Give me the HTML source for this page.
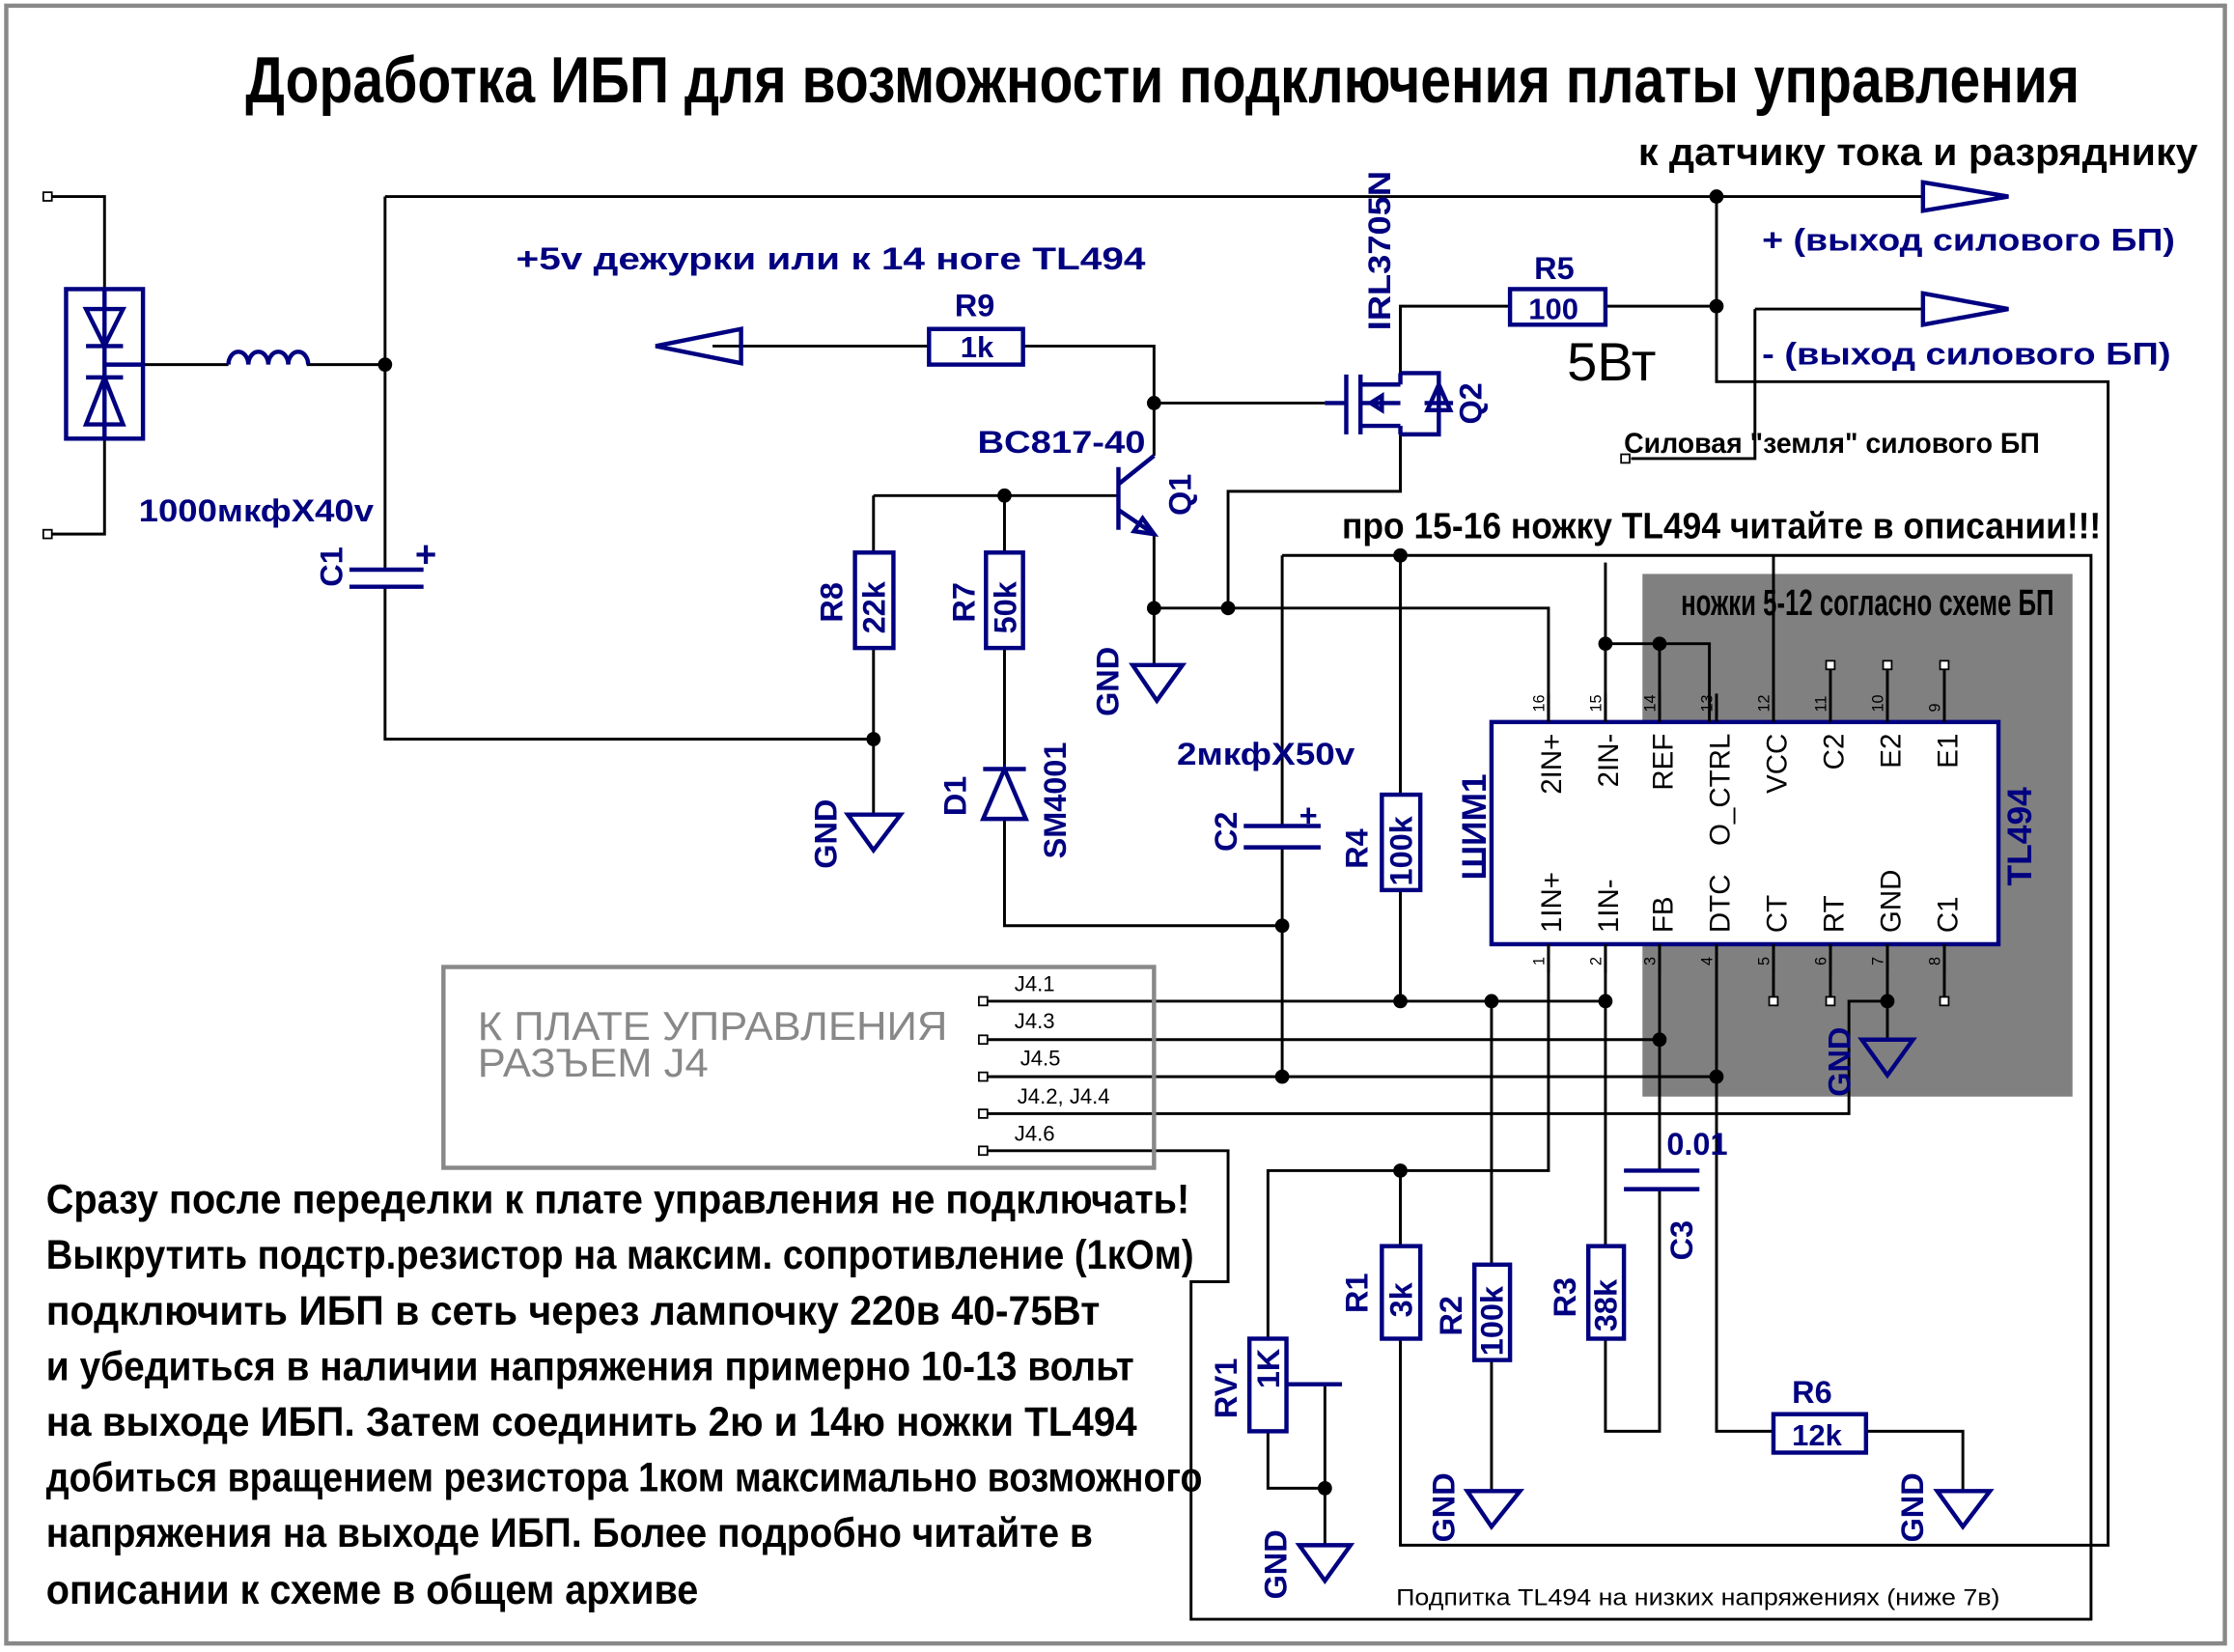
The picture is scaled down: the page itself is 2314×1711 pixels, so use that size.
<!DOCTYPE html>
<html><head><meta charset="utf-8"><style>
html,body{margin:0;padding:0;background:#fff;}
svg{display:block;}
text{font-family:"Liberation Sans","DejaVu Sans",sans-serif;}
.w{stroke:#000;stroke-width:2;fill:none;}
.c{stroke:#000080;stroke-width:3;fill:none;}
.b{fill:#000080;}
.k{fill:#000;}
.t{stroke:#000;stroke-width:1.2;fill:#fff;}
</style></head><body>
<svg width="2314" height="1711" viewBox="0 0 1568 1160" xmlns="http://www.w3.org/2000/svg">
<rect x="0" y="0" width="1568" height="1160" style="fill:#fff"/>
<rect x="4" y="4" width="1558" height="1150" style="fill:none;stroke:#888;stroke-width:3"/>

<rect x="1153" y="403" width="302" height="367" style="fill:#808080"/>
<text x="1180" y="432" font-size="26" font-weight="bold" class="k" textLength="262" lengthAdjust="spacingAndGlyphs">ножки 5-12 согласно схеме БП</text>

<rect x="1047" y="507" width="356" height="156" style="fill:#ffffff;stroke:#000080;stroke-width:3"/>

<text x="172" y="72" font-size="46" font-weight="bold" class="k" textLength="1288" lengthAdjust="spacingAndGlyphs">Доработка ИБП для возможности подключения платы управления</text>
<text x="1150" y="116" font-size="27" font-weight="bold" class="k" textLength="393" lengthAdjust="spacingAndGlyphs">к датчику тока и разряднику</text>

<g class="w">
<path d="M36 138H73V203M73 308V375H36"/>
<path d="M73 256H160M215 256H270"/>
<path d="M270 138H1350M270 138V400M270 412V519H613"/>
<path d="M1205 138V268H1480V1085H983V940"/>
<path d="M1127 215H1205"/>
<path d="M1232 217H1350M1232 217V322H1145"/>
<path d="M500 243H652M718 243H810V320"/>
<path d="M810 283H930"/>
<path d="M983 262V215H1060"/>
<path d="M983 305V345H862V427"/>
<path d="M810 375V467"/>
<path d="M810 427H1087V507"/>
<path d="M613 348H785"/>
<path d="M613 348V388M613 455V572"/>
<path d="M705 348V388M705 455V540M705 575V650H900"/>
<path d="M900 390H1468V1137H836V900H862V808H690"/>
<path d="M1245 390V507"/>
<path d="M983 390V558M983 625V703"/>
<path d="M900 390V580M900 595V756"/>
<path d="M1127 395V507M1127 452H1200V507M1165 452V507"/>
<path d="M690 703H1127M1127 663V875M1127 940V1005H1165V835"/>
<path d="M1087 663V822H890V940M983 822V875"/>
<path d="M690 730H1165M1165 663V822"/>
<path d="M690 756H1205M1205 663V1005H1245M1310 1005H1378V1047"/>
<path d="M690 782H1298V703H1325V730M1325 663V703"/>
<path d="M1047 703V888M1047 955V1047"/>
<path d="M890 1005V1045H930M930 972V1085"/>
<path d="M1285 467V507M1325 467V507M1365 467V507"/>
<path d="M1245 663V703M1285 663V703M1365 663V703"/>
</g>
<g class="t">
<rect x="30" y="135" width="6" height="6"/><rect x="30" y="372" width="6" height="6"/>
<rect x="1138" y="319" width="6" height="6"/>
<rect x="1282" y="464" width="6" height="6"/><rect x="1322" y="464" width="6" height="6"/><rect x="1362" y="464" width="6" height="6"/>
<rect x="1242" y="700" width="6" height="6"/><rect x="1282" y="700" width="6" height="6"/><rect x="1362" y="700" width="6" height="6"/>
<rect x="687" y="700" width="6" height="6"/><rect x="687" y="727" width="6" height="6"/><rect x="687" y="753" width="6" height="6"/><rect x="687" y="779" width="6" height="6"/><rect x="687" y="805" width="6" height="6"/>
</g>
<g class="k">
<circle cx="270" cy="256" r="5"/><circle cx="1205" cy="138" r="5"/><circle cx="1205" cy="215" r="5"/>
<circle cx="810" cy="283" r="5"/><circle cx="705" cy="348" r="5"/><circle cx="613" cy="519" r="5"/>
<circle cx="810" cy="427" r="5"/><circle cx="862" cy="427" r="5"/><circle cx="983" cy="390" r="5"/>
<circle cx="1127" cy="452" r="5"/><circle cx="1165" cy="452" r="5"/><circle cx="900" cy="650" r="5"/>
<circle cx="983" cy="703" r="5"/><circle cx="1047" cy="703" r="5"/><circle cx="1127" cy="703" r="5"/>
<circle cx="1165" cy="730" r="5"/><circle cx="900" cy="756" r="5"/><circle cx="1205" cy="756" r="5"/>
<circle cx="1325" cy="703" r="5"/><circle cx="983" cy="822" r="5"/><circle cx="930" cy="1045" r="5"/>
</g>

<g class="c">
<rect x="46" y="203" width="54" height="105"/>
<path d="M60 217H86L73 243ZM60 243H86M60 265H86M60 298H86L73 265Z"/>
<path d="M73 203V308M73 256H100"/>
<path d="M160 256a7 9 0 0 1 14 0a7 9 0 0 1 14 0a7 9 0 0 1 14 0a7 9 0 0 1 14 0" />
<path d="M245 400H297M245 412H297"/>
<path d="M460 243L520 231V255Z"/>
<path d="M1350 128L1410 138L1350 148Z"/>
<path d="M1350 206L1410 217L1350 228Z"/>
<rect x="652" y="231" width="66" height="25"/>
<rect x="1060" y="203" width="67" height="25"/>
<path d="M930 283H945M945 263V305M955 263V277M955 277V292M955 292V305M955 270H983M955 299H983M955 283H983M983 262V270M983 299V305"/>
<path d="M983 262H1010V305H983M1000 283H1020M1010 270L1002 288H1018Z"/>
<path d="M962 283l8-5v10z"/>
<path d="M785 328V372M785 340L810 320M785 358L810 375"/>
<path d="M810 375l-14-2 6-9z"/>
<rect x="600" y="388" width="27" height="67"/>
<rect x="692" y="388" width="26" height="67"/>
<rect x="970" y="558" width="27" height="67"/>
<rect x="970" y="875" width="27" height="65"/>
<rect x="1035" y="888" width="25" height="67"/>
<rect x="1115" y="875" width="25" height="65"/>
<rect x="1245" y="993" width="65" height="27"/>
<rect x="877" y="940" width="26" height="65"/>
<path d="M903 972H942"/>
<path d="M690 575H720L705 540ZM690 540H720"/>
<path d="M873 580H927M873 595H927M1140 822H1193M1140 835H1193"/>
<path d="M795 467H830L812 492Z"/>
<path d="M595 572H632L613 597Z"/>
<path d="M1307 730H1343L1325 755Z"/>
<path d="M1030 1047H1067L1047 1072Z"/>
<path d="M1360 1047H1397L1378 1072Z"/>
<path d="M912 1085H948L930 1110Z"/>
</g>
<path d="M1087 507V487M1127 507V487M1165 507V487M1205 507V487M1245 507V487M1087 663V683M1127 663V683M1165 663V683M1205 663V683M1245 663V683M1285 663V683M1325 663V683M1365 663V683" class="w"/>

<rect x="311" y="679" width="499" height="141" style="fill:none;stroke:#888;stroke-width:3"/>
<text x="335" y="730" font-size="28" fill="#888" textLength="330" lengthAdjust="spacingAndGlyphs">К ПЛАТЕ УПРАВЛЕНИЯ</text>
<text x="335" y="756" font-size="28" fill="#888" textLength="162" lengthAdjust="spacingAndGlyphs">РАЗЪЕМ J4</text>
<g class="k" font-size="15">
<text x="712" y="696">J4.1</text><text x="712" y="722">J4.3</text><text x="716" y="748">J4.5</text><text x="714" y="775">J4.2, J4.4</text><text x="712" y="801">J4.6</text>
</g>

<g class="b" font-size="22" font-weight="bold">
<text x="362" y="189" textLength="442" lengthAdjust="spacingAndGlyphs">+5v дежурки или к 14 ноге TL494</text>
<text x="97" y="366" textLength="165" lengthAdjust="spacingAndGlyphs">1000мкфX40v</text>
<text x="670" y="222">R9</text>
<text x="674" y="251" font-size="21">1k</text>
<text x="1077" y="196">R5</text>
<text x="1073" y="224" font-size="21">100</text>
<text x="686" y="318" textLength="118" lengthAdjust="spacingAndGlyphs">BC817-40</text>
<text x="826" y="537" textLength="125" lengthAdjust="spacingAndGlyphs">2мкфX50v</text>
<text x="1237" y="176" textLength="290" lengthAdjust="spacingAndGlyphs">+ (выход силового БП)</text>
<text x="1237" y="256" textLength="287" lengthAdjust="spacingAndGlyphs">- (выход силового БП)</text>
<text x="1170" y="811">0.01</text>
<text x="1258" y="985">R6</text>
<text x="1258" y="1015" font-size="21">12k</text>
<text x="291" y="398" font-size="26">+</text>
<text x="912" y="580" font-size="22">+</text>
</g>
<g class="b" font-size="22" font-weight="bold">
<text transform="translate(240,412) rotate(-90)">C1</text>
<text transform="translate(976,232) rotate(-90)" textLength="112" lengthAdjust="spacingAndGlyphs">IRL3705N</text>
<text transform="translate(1040,298) rotate(-90)">Q2</text>
<text transform="translate(836,362) rotate(-90)">Q1</text>
<text transform="translate(785,503) rotate(-90)">GND</text>
<text transform="translate(591,437) rotate(-90)">R8</text>
<text transform="translate(621,445) rotate(-90)">22k</text>
<text transform="translate(684,437) rotate(-90)">R7</text>
<text transform="translate(713,445) rotate(-90)">50k</text>
<text transform="translate(587,610) rotate(-90)">GND</text>
<text transform="translate(678,573) rotate(-90)">D1</text>
<text transform="translate(748,603) rotate(-90)">SM4001</text>
<text transform="translate(868,598) rotate(-90)">C2</text>
<text transform="translate(960,610) rotate(-90)">R4</text>
<text transform="translate(991,622) rotate(-90)">100k</text>
<text transform="translate(1043,618) rotate(-90)" font-size="24">ШИМ1</text>
<text transform="translate(1426,622) rotate(-90)" font-size="24">TL494</text>
<text transform="translate(1299,770) rotate(-90)">GND</text>
<text transform="translate(1188,885) rotate(-90)">C3</text>
<text transform="translate(960,922) rotate(-90)">R1</text>
<text transform="translate(991,925) rotate(-90)">3k</text>
<text transform="translate(1026,938) rotate(-90)">R2</text>
<text transform="translate(1055,952) rotate(-90)">100k</text>
<text transform="translate(1106,925) rotate(-90)">R3</text>
<text transform="translate(1135,935) rotate(-90)">38k</text>
<text transform="translate(868,996) rotate(-90)">RV1</text>
<text transform="translate(898,975) rotate(-90)">1K</text>
<text transform="translate(1021,1083) rotate(-90)">GND</text>
<text transform="translate(1350,1083) rotate(-90)">GND</text>
<text transform="translate(903,1123) rotate(-90)">GND</text>
</g>
<g class="k" font-size="20">
<text transform="translate(1096,515) rotate(-90)" text-anchor="end">2IN+</text>
<text transform="translate(1136,515) rotate(-90)" text-anchor="end">2IN-</text>
<text transform="translate(1174,515) rotate(-90)" text-anchor="end">REF</text>
<text transform="translate(1214,515) rotate(-90)" text-anchor="end">O_CTRL</text>
<text transform="translate(1254,515) rotate(-90)" text-anchor="end">VCC</text>
<text transform="translate(1294,515) rotate(-90)" text-anchor="end">C2</text>
<text transform="translate(1334,515) rotate(-90)" text-anchor="end">E2</text>
<text transform="translate(1374,515) rotate(-90)" text-anchor="end">E1</text>
<text transform="translate(1096,655) rotate(-90)">1IN+</text>
<text transform="translate(1136,655) rotate(-90)">1IN-</text>
<text transform="translate(1174,655) rotate(-90)">FB</text>
<text transform="translate(1214,655) rotate(-90)">DTC</text>
<text transform="translate(1254,655) rotate(-90)">CT</text>
<text transform="translate(1294,655) rotate(-90)">RT</text>
<text transform="translate(1334,655) rotate(-90)">GND</text>
<text transform="translate(1374,655) rotate(-90)">C1</text>
</g>
<g class="k" font-size="11">
<text transform="translate(1084,500) rotate(-90)">16</text><text transform="translate(1124,500) rotate(-90)">15</text><text transform="translate(1162,500) rotate(-90)">14</text><text transform="translate(1202,500) rotate(-90)">13</text><text transform="translate(1242,500) rotate(-90)">12</text><text transform="translate(1282,500) rotate(-90)">11</text><text transform="translate(1322,500) rotate(-90)">10</text><text transform="translate(1362,500) rotate(-90)">9</text>
<text transform="translate(1084,678) rotate(-90)">1</text><text transform="translate(1124,678) rotate(-90)">2</text><text transform="translate(1162,678) rotate(-90)">3</text><text transform="translate(1202,678) rotate(-90)">4</text><text transform="translate(1242,678) rotate(-90)">5</text><text transform="translate(1282,678) rotate(-90)">6</text><text transform="translate(1322,678) rotate(-90)">7</text><text transform="translate(1362,678) rotate(-90)">8</text>
</g>

<text x="1100" y="267" font-size="38" class="k">5Вт</text>
<text x="1140" y="318" font-size="20" font-weight="bold" class="k" textLength="292" lengthAdjust="spacingAndGlyphs">Силовая "земля" силового БП</text>
<text x="942" y="378" font-size="26" font-weight="bold" class="k" textLength="533" lengthAdjust="spacingAndGlyphs">про 15-16 ножку TL494 читайте в описании!!!</text>
<text x="980" y="1127" font-size="16" class="k" textLength="424" lengthAdjust="spacingAndGlyphs">Подпитка TL494 на низких напряжениях (ниже 7в)</text>
<g class="k" font-size="29" font-weight="bold">
<text x="32" y="852" textLength="803" lengthAdjust="spacingAndGlyphs">Сразу после переделки к плате управления не подключать!</text>
<text x="32" y="891" textLength="806" lengthAdjust="spacingAndGlyphs">Выкрутить подстр.резистор на максим. сопротивление (1кОм)</text>
<text x="32" y="930" textLength="740" lengthAdjust="spacingAndGlyphs">подключить ИБП в сеть через лампочку 220в 40-75Вт</text>
<text x="32" y="969" textLength="764" lengthAdjust="spacingAndGlyphs">и убедиться в наличии напряжения примерно 10-13 вольт</text>
<text x="32" y="1008" textLength="766" lengthAdjust="spacingAndGlyphs">на выходе ИБП. Затем соединить 2ю и 14ю ножки TL494</text>
<text x="32" y="1047" textLength="812" lengthAdjust="spacingAndGlyphs">добиться вращением резистора 1ком максимально возможного</text>
<text x="32" y="1086" textLength="735" lengthAdjust="spacingAndGlyphs">напряжения на выходе ИБП. Более подробно читайте в</text>
<text x="32" y="1126" textLength="458" lengthAdjust="spacingAndGlyphs">описании к схеме в общем архиве</text>
</g>
</svg>
</body></html>
